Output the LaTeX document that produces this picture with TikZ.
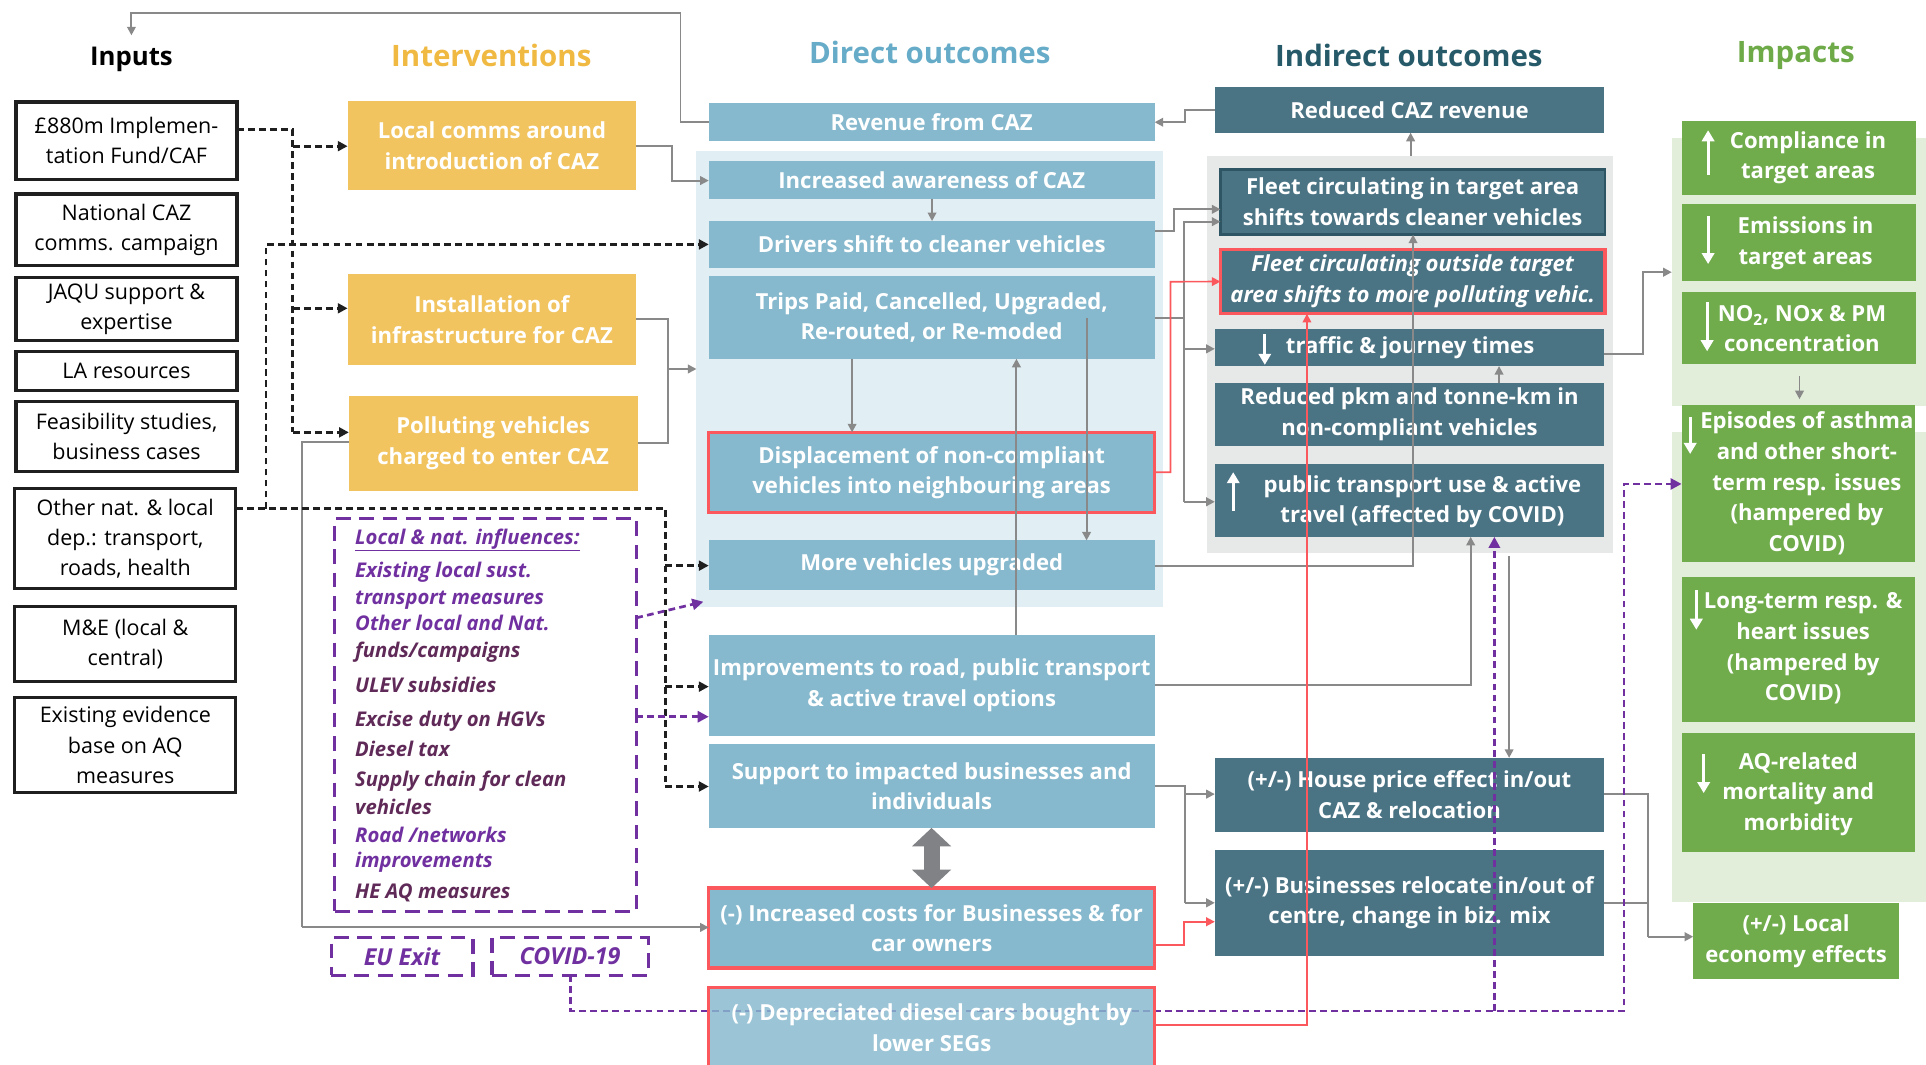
\documentclass[tikz,border=0pt]{standalone}
\usepackage{fontspec}
\setmainfont{Open Sans}
\usetikzlibrary{arrows.meta}

\definecolor{ltblue}{RGB}{134,185,206}
\definecolor{panelblue}{RGB}{225,239,244}
\definecolor{tealbox}{RGB}{74,115,132}
\definecolor{tealedge}{RGB}{45,85,100}
\definecolor{panelgray}{RGB}{231,232,232}
\definecolor{yel}{RGB}{241,196,96}
\definecolor{grn}{RGB}{112,172,76}
\definecolor{panelgreen}{RGB}{226,237,218}
\definecolor{redl}{RGB}{250,88,92}
\definecolor{purp}{RGB}{112,48,160}
\definecolor{purpdk}{RGB}{96,42,88}
\definecolor{conn}{RGB}{137,137,137}
\definecolor{dblarrow}{RGB}{128,130,133}
\definecolor{tYel}{RGB}{240,185,66}
\definecolor{tBlue}{RGB}{102,172,200}
\definecolor{tTeal}{RGB}{38,90,105}
\definecolor{tGreen}{RGB}{110,170,72}

% box from corner (x1,y1) to (x2,y2): style, name, x1, y1, x2, y2, text
\newcommand\mkbox[7]{%
  \pgfmathsetmacro\bxW{#5-#3}\pgfmathsetmacro\bxH{#6-#4}%
  \pgfmathsetmacro\bxX{(#3+#5)/2}\pgfmathsetmacro\bxY{(#4+#6)/2}%
  \node[#1, minimum width=\bxW pt, minimum height=\bxH pt] (#2) at (\bxX,\bxY) {#7};}

\begin{document}
\begin{tikzpicture}[x=1pt,y=-1pt,
  bfont/.style={font=\bfseries\fontsize{18}{25}\selectfont},
  base/.style={inner sep=0pt, outer sep=0pt, align=center, bfont, text=white},
  dbox/.style={base, fill=ltblue},
  rbox/.style={dbox, draw=redl, line width=2.6pt},
  ibox/.style={base, fill=tealbox},
  ybox/.style={base, fill=yel},
  gbox/.style={base, fill=grn},
  inbox/.style={inner sep=0pt, outer sep=0pt, align=center, draw=black!88, line width=2.6pt, fill=white, font=\fontsize{17.5}{24.5}\selectfont},
  panel/.style={inner sep=0pt, outer sep=0pt},
  btext/.style={inner sep=0pt, align=center, bfont, text=white},
  title/.style={inner sep=0pt, font=\bfseries\fontsize{24}{28}\selectfont},
  ifont/.style={inner sep=0pt, anchor=base west, font=\bfseries\itshape\fontsize{16.5}{20}\selectfont},
  pbox/.style={inner sep=0pt, outer sep=0pt, draw=purp, line width=2.6pt, dash pattern=on 12pt off 7pt, fill=white},
  gline/.style={draw=conn, line width=1.6pt},
  garrow/.style={gline, -{Triangle[length=7pt,width=7pt]}},
  rarrow/.style={draw=redl, line width=1.4pt, -{Triangle[length=7pt,width=7pt]}},
  kdash/.style={draw=black!88, line width=2.2pt, dash pattern=on 5.5pt off 3.5pt},
  karrow/.style={kdash, -{Triangle[length=8pt,width=8pt]}},
  pdash/.style={draw=purp, line width=2.2pt, dash pattern=on 5.5pt off 3.5pt},
  parrow/.style={pdash, -{Triangle[length=9pt,width=9pt]}},
  warrow/.style={draw=white, line width=2.6pt, -{Triangle[length=9pt,width=10pt]}}
]
\clip (0,0) rectangle (1568,867);
\fill[white] (0,0) rectangle (1568,867);

% ---------- column titles ----------
\node[title, text=black, font=\bfseries\fontsize{21}{25}\selectfont] (tIn) at (107,48) {Inputs};
\node[title, text=tYel] (tIv) at (400,45) {Interventions};
\node[title, text=tBlue] (tDo) at (757,43) {Direct outcomes};
\node[title, text=tTeal] (tIo) at (1147,45) {Indirect outcomes};
\node[title, text=tGreen] (tIm) at (1462,45) {Impacts};

% ---------- background panels ----------
\mkbox{panel, fill=panelblue}{dpanel}{567}{123}{947}{494}{}
\mkbox{panel, fill=panelgray}{ipanel}{983}{127}{1313}{450}{}
\mkbox{panel, fill=panelgreen}{gpanelA}{1361}{112}{1580}{330.5}{}
\mkbox{panel, fill=panelgreen}{gpanelB}{1361}{351.5}{1580}{734}{}

% ---------- inputs ----------
\mkbox{inbox}{in1}{13}{83}{193}{146}{£880m Implemen-\\tation Fund/CAF}
\mkbox{inbox}{in2}{13}{158}{193}{216}{National CAZ\\comms. campaign}
\mkbox{inbox}{in3}{13}{226}{193}{277}{JAQU support \&\\expertise}
\mkbox{inbox}{in4}{13}{286}{193}{318}{LA resources}
\mkbox{inbox}{in5}{13}{327}{193}{384}{Feasibility studies,\\business cases}
\mkbox{inbox}{in6}{12}{398}{192}{479}{Other nat. \& local\\dep.: transport,\\roads, health}
\mkbox{inbox}{in7}{12}{494}{192}{555}{M\&E (local \&\\central)}
\mkbox{inbox}{in8}{12}{568}{192}{645}{Existing evidence\\base on AQ\\measures}

% ---------- interventions ----------
\mkbox{ybox}{iv1}{283}{82}{518}{155}{Local comms around\\introduction of CAZ}
\mkbox{ybox}{iv2}{283}{223}{518}{297}{Installation of\\infrastructure for CAZ}
\mkbox{ybox}{iv3}{284}{322}{519}{400}{Polluting vehicles\\charged to enter CAZ}

% local and national influences
\mkbox{pbox}{influ}{272.6}{422}{518}{742}{}
\node[ifont, text=purp] (f0) at (289,443) {\underline{Local \& nat. influences:}};
\node[ifont, text=purp] (f1) at (289,470.5) {Existing local sust.};
\node[ifont, text=purp] (f1b) at (289,492) {transport measures};
\node[ifont, text=purp] (f2) at (289,513.5) {Other local and Nat.};
\node[ifont, text=purpdk] (f2b) at (289,535.5) {funds/campaigns};
\node[ifont, text=purpdk] (f3) at (289,563.5) {ULEV subsidies};
\node[ifont, text=purpdk] (f4) at (289,591.5) {Excise duty on HGVs};
\node[ifont, text=purpdk] (f5) at (289,615.5) {Diesel tax};
\node[ifont, text=purpdk] (f6) at (289,640.5) {Supply chain for clean};
\node[ifont, text=purpdk] (f6b) at (289,663.3) {vehicles};
\node[ifont, text=purp] (f7) at (289,685.5) {Road /networks};
\node[ifont, text=purp] (f7b) at (289,706.5) {improvements};
\node[ifont, text=purpdk] (f8) at (289,731.5) {HE AQ measures};

\mkbox{pbox, text=purp, font=\bfseries\itshape\fontsize{19}{22}\selectfont}{eu}{269.6}{763.5}{385}{794}{EU Exit}
\mkbox{pbox, text=purp, font=\bfseries\itshape\fontsize{19}{22}\selectfont}{covid}{400.5}{763.5}{527.7}{794}{COVID-19}

% ---------- direct outcomes ----------
\mkbox{dbox}{rev}{577}{84}{940}{115}{Revenue from CAZ}
\mkbox{dbox}{aware}{577}{131}{940}{162}{Increased awareness of CAZ}
\mkbox{dbox}{drivers}{577}{180}{940}{218}{Drivers shift to cleaner vehicles}
\mkbox{dbox}{trips}{577}{225}{940}{292}{Trips Paid, Cancelled, Upgraded,\\Re-routed, or Re-moded}
\mkbox{rbox}{displ}{577}{352}{940}{417.5}{Displacement of non-compliant\\vehicles into neighbouring areas}
\mkbox{dbox}{upgr}{577}{440}{940}{480}{More vehicles upgraded}
\mkbox{dbox}{impr}{577}{517}{940}{599}{Improvements to road, public transport\\\& active travel options}
\mkbox{dbox}{supp}{577}{606}{940}{674}{Support to impacted businesses and\\individuals}
\mkbox{rbox}{costs}{577}{723}{940}{788}{(-) Increased costs for Businesses \& for\\car owners}

% ---------- indirect outcomes ----------
\mkbox{ibox}{redrev}{989}{71}{1306}{108}{Reduced CAZ revenue}
\mkbox{ibox, draw=tealedge, line width=2pt}{fleetin}{993.6}{138}{1306.6}{191}{Fleet circulating in target area\\shifts towards cleaner vehicles}
\mkbox{ibox, draw=redl, line width=2.6pt, font=\bfseries\itshape\fontsize{18}{25}\selectfont}{fleetout}{993.6}{203}{1306.6}{255.5}{Fleet circulating outside target\\area shifts to more polluting vehic.}
\mkbox{ibox}{traffic}{989}{267.5}{1306}{298}{}
\node[btext] (trafficT) at (1148,283) {traffic \& journey times};
\mkbox{ibox}{pkm}{989}{311.7}{1306}{363.3}{Reduced pkm and tonne-km in\\non-compliant vehicles}
\mkbox{ibox}{pubtr}{989}{378}{1306}{437}{}
\node[btext] (pubtrT) at (1158,408.5) {public transport use \& active\\travel (affected by COVID)};
\mkbox{ibox}{house}{989}{617}{1306}{677}{(+/-) House price effect in/out\\CAZ \& relocation}
\mkbox{ibox}{biz}{989}{692}{1306}{778}{(+/-) Businesses relocate in/out of\\centre, change in biz. mix}

% ---------- impacts ----------
\mkbox{gbox}{compl}{1369.5}{98.3}{1560}{158.5}{}
\node[btext] (complT) at (1472,128.5) {Compliance in\\target areas};
\mkbox{gbox}{emis}{1369.5}{166}{1560}{229}{}
\node[btext] (emisT) at (1470,198) {Emissions in\\target areas};
\mkbox{gbox}{no2}{1369.5}{237.5}{1560}{296.5}{}
\node[btext] (no2T) at (1467,267.5) {NO\textsubscript{2}, NOx \& PM\\concentration};
\mkbox{gbox}{asthma}{1369}{330}{1559}{457.4}{}
\node[btext] (asthmaT) at (1471,393.5) {Episodes of asthma\\and other short-\\term resp. issues\\(hampered by\\COVID)};
\mkbox{gbox}{longt}{1369}{470}{1559}{588}{}
\node[btext] (longtT) at (1468,528) {Long-term resp. \&\\heart issues\\(hampered by\\COVID)};
\mkbox{gbox}{aqmort}{1369}{597}{1559}{694}{}
\node[btext] (aqmortT) at (1464,646.5) {AQ-related\\mortality and\\morbidity};
\mkbox{gbox}{locecon}{1378.5}{735}{1546}{797}{(+/-) Local\\economy effects}

% white direction arrows inside boxes
\draw[warrow] (1390.6,142.5) -- (1390.6,106);
\draw[warrow] (1390.6,176) -- (1390.6,215);
\draw[warrow] (1389.8,246) -- (1389.8,286);
\draw[warrow] (1376,339.6) -- (1376,369.6);
\draw[warrow] (1381,480.6) -- (1381,512.7);
\draw[warrow] (1387,614) -- (1387,645.7);
\draw[warrow] (1029.7,272) -- (1029.7,297);
\draw[warrow] (1004,415.8) -- (1004,384.4);

% ---------- grey connectors ----------
\draw[garrow] (rev.west) -| (554,10.9) -| ([yshift=9pt]tIn.north);
\draw[garrow] (redrev.west) -| (965,99.5) -- (rev.east);
\draw[garrow] (ipanel.north -| 1148.4,0) -- (redrev.south -| 1148.4,0);
\draw[garrow] (iv1.east) -| (547,147) -- (aware.west |- 0,147);
\draw[gline] (iv2.east) -| (544,361) -- (iv3.east);
\draw[garrow] (544,300.4) -- (dpanel.west |- 0,300.4);
\draw[garrow] (aware.south -| 758.8,0) -- (drivers.north -| 758.8,0);
\draw[garrow] (drivers.east |- 0,188.3) -| (955.8,170.4) -- (fleetin.west |- 0,170.4);
\draw[gline] (trips.east |- 0,259) -- (964,259);
\draw[garrow] (964,408.5) |- (fleetin.west |- 0,180.5);
\draw[garrow] (964,284) -- (traffic.west |- 0,284);
\draw[garrow] (964,408.5) -- (pubtr.west |- 0,408.5);
\draw[garrow] (trips.south -| 693.7,0) -- (displ.north -| 693.7,0);
\draw[garrow] (884.6,259) -- (upgr.north -| 884.6,0);
\draw[garrow] (impr.north -| 827.5,0) -- (trips.south -| 827.5,0);
\draw[garrow] (upgr.east |- 0,460.5) -| (fleetin.south -| 1150.4,0);
\draw[garrow] (impr.east |- 0,558) -| (pubtr.south -| 1197.3,0);
\draw[garrow] (1228.6,452.7) -- (house.north -| 1228.6,0);
\draw[garrow] (pkm.north -| 1220.4,0) -- (traffic.south -| 1220.4,0);
\draw[gline] (supp.east |- 0,639.7) -| (964.8,735);
\draw[garrow] (964.8,646.5) -- (house.west |- 0,646.5);
\draw[garrow] (964.8,735) -- (biz.west);
\draw[garrow] (traffic.east |- 0,288) -| (1337.7,221.6) -- (gpanelA.west |- 0,221.6);
\draw[garrow, shorten <=10pt, shorten >=5pt] (no2.south -| 1465,0) -- (asthma.north -| 1465,0);
\draw[gline] (house.east |- 0,646.5) -| (1341.6,762.6);
\draw[gline] (biz.east) -- (1341.6,735);
\draw[garrow] (1341.6,762.6) -- (locecon.west |- 0,762.6);
\draw[gline] (iv3.west |- 0,360) -| (246,755);
\draw[garrow] (246,755) -- (costs.west |- 0,755);
\draw[draw=dblarrow, line width=13pt, {Triangle[length=15pt,width=31pt]}-{Triangle[length=15pt,width=31pt]}] (supp.south -| 758.4,0) -- (costs.north -| 758.4,0);

% ---------- red connectors ----------
\draw[rarrow] (displ.east |- 0,384.5) -| (953,229.3) -- (fleetout.west);
\draw[rarrow] (costs.east |- 0,769.5) -| (964,750.4) -- (biz.west |- 0,750.4);

% ---------- black dashed connectors ----------
\draw[kdash] (in1.east |- 0,105.4) -| (238.4,352);
\draw[karrow] (238.4,119) -- (iv1.west |- 0,119);
\draw[karrow] (238.4,251) -- (iv2.west |- 0,251);
\draw[karrow] (238.4,352) -- (iv3.west |- 0,352);
\draw[kdash] (in6.east |- 0,414) -- (541.6,414) -- (541.6,640.3);
\draw[karrow] (216.6,414) |- (drivers.west);
\draw[karrow] (541.6,460.5) -- (upgr.west |- 0,460.5);
\draw[karrow] (541.6,559) -- (impr.west |- 0,559);
\draw[karrow] (541.6,640.3) -- (supp.west |- 0,640.3);

% ---------- purple dashed connectors ----------
\draw[parrow] (influ.east |- 0,503) -- (572.6,489.9);
\draw[parrow] (influ.east |- 0,583.5) -- (impr.west |- 0,583.5);
\draw[parrow] (covid.south -| 464.6,0) |- (1322,823) |- (asthma.west |- 0,394);
\draw[parrow] (1216.6,823) -- (pubtr.south -| 1216.6,0);

% depreciated cars box sits over the COVID line
\mkbox{rbox, fill opacity=0.82, text opacity=1, draw opacity=1}{depr}{577}{804}{940}{869}{(-) Depreciated diesel cars bought by\\lower SEGs}
\draw[rarrow] (depr.east |- 0,834.5) -| (fleetout.south -| 1064,0);
\end{tikzpicture}
\end{document}
